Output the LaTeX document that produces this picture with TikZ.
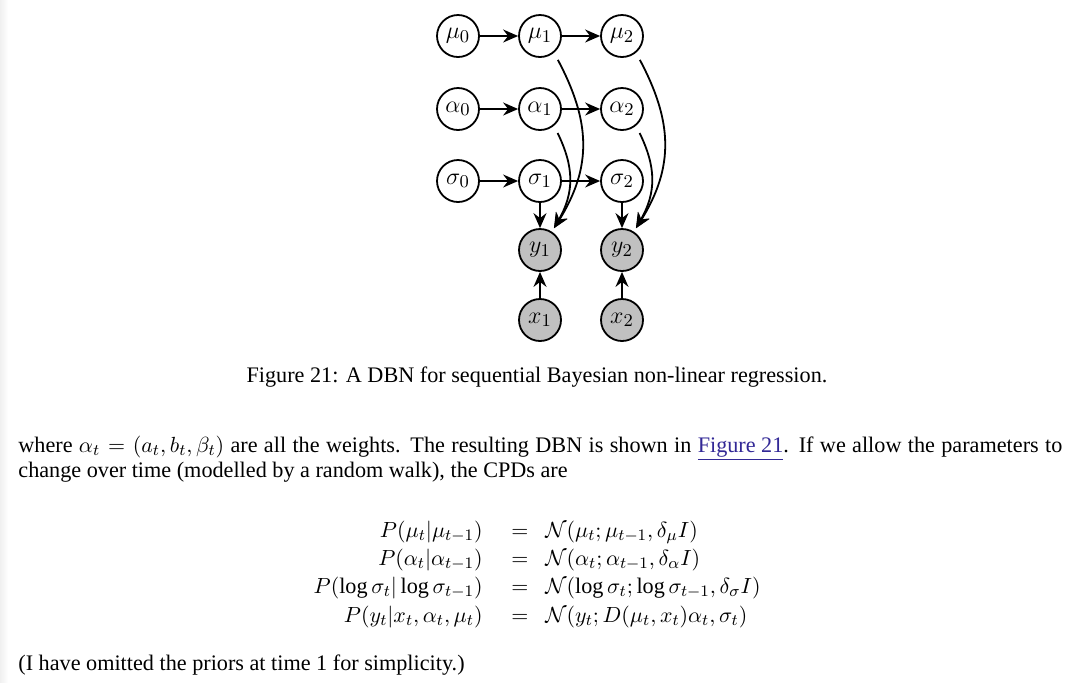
\documentclass[tikz,border=0pt]{standalone}
\usepackage{fontspec}
\setmainfont{Liberation Serif}
\usetikzlibrary{arrows.meta}
\definecolor{linkblue}{RGB}{50,40,150}
\definecolor{obsgray}{RGB}{192,192,192}
\begin{document}
\begin{tikzpicture}[x=0.5pt,y=-0.5pt,
  var/.style={circle,draw,line width=0.9pt,minimum size=21pt,inner sep=0pt,font=\fontsize{13.2}{15}\selectfont},
  obs/.style={var,fill=obsgray},
  arr/.style={-{Stealth[length=7.5pt,width=6.5pt,inset=2.5pt]},line width=0.9pt},
  curv/.style={arr,shorten <=4pt,shorten >=2pt},
  txt/.style={inner sep=0pt,font=\fontsize{11.1}{13}\selectfont}]
\useasboundingbox (0,0) rectangle (1080,682);
\fill[white] (0,0) rectangle (1080,682);
\shade[left color=gray!12,right color=white] (0,0) rectangle (8,682);
% nodes
\node[var] (mu0) at (458,36) {$\mu_0$};
\node[var] (mu1) at (540,36) {$\mu_1$};
\node[var] (mu2) at (622,36) {$\mu_2$};
\node[var] (al0) at (458,109) {$\alpha_0$};
\node[var] (al1) at (540,109) {$\alpha_1$};
\node[var] (al2) at (622,109) {$\alpha_2$};
\node[var] (sg0) at (458,181) {$\sigma_0$};
\node[var] (sg1) at (540,181) {$\sigma_1$};
\node[var] (sg2) at (622,181) {$\sigma_2$};
\node[obs] (y1) at (540,250) {$y_1$};
\node[obs] (y2) at (622,250) {$y_2$};
\node[obs] (x1) at (540,320) {$x_1$};
\node[obs] (x2) at (622,320) {$x_2$};
% edges
\draw[arr] (mu0) -- (mu1);
\draw[arr] (mu1) -- (mu2);
\draw[arr] (al0) -- (al1);
\draw[arr] (al1) -- (al2);
\draw[arr] (sg0) -- (sg1);
\draw[arr] (sg1) -- (sg2);
\draw[arr] (sg1) -- (y1);
\draw[arr] (sg2) -- (y2);
\draw[arr] (x1) -- (y1);
\draw[arr] (x2) -- (y2);
\draw[curv] (mu1.-50) to[out=-62,in=58,looseness=1.1] (y1.57);
\draw[curv] (al1.-50) to[out=-64,in=60,looseness=1.1] (y1.57);
\draw[curv] (mu2.-50) to[out=-62,in=58,looseness=1.1] (y2.57);
\draw[curv] (al2.-50) to[out=-64,in=60,looseness=1.1] (y2.57);
% caption
\node[txt,anchor=base] (cap) at (537,382) {Figure 21: A DBN for sequential Bayesian non-linear regression.};
% paragraph
\node[txt,anchor=base west] (p1) at (18,452) {\makebox[522pt][s]{where $\alpha_t = (a_t, b_t, \beta_t)$ are all the weights. The resulting DBN is shown in \textcolor{linkblue}{\underline{Figure 21}}. If we allow the parameters to}};
\node[txt,anchor=base west] (p2) at (18,477) {change over time (modelled by a random walk), the CPDs are};
% equations
\node[txt,anchor=base east] (l1) at (483,537) {$P(\mu_t|\mu_{t-1})$};
\node[txt,anchor=base] (e1) at (520,537) {$=$};
\node[txt,anchor=base west] (r1) at (545,537) {$\mathcal{N}(\mu_t;\mu_{t-1},\delta_\mu I)$};
\node[txt,anchor=base east] (l2) at (483,565) {$P(\alpha_t|\alpha_{t-1})$};
\node[txt,anchor=base] (e2) at (520,565) {$=$};
\node[txt,anchor=base west] (r2) at (545,565) {$\mathcal{N}(\alpha_t;\alpha_{t-1},\delta_\alpha I)$};
\node[txt,anchor=base east] (l3) at (483,593) {$P(\log\sigma_t|\log\sigma_{t-1})$};
\node[txt,anchor=base] (e3) at (520,593) {$=$};
\node[txt,anchor=base west] (r3) at (545,593) {$\mathcal{N}(\log\sigma_t;\log\sigma_{t-1},\delta_\sigma I)$};
\node[txt,anchor=base east] (l4) at (483,622) {$P(y_t|x_t,\alpha_t,\mu_t)$};
\node[txt,anchor=base] (e4) at (520,622) {$=$};
\node[txt,anchor=base west] (r4) at (545,622) {$\mathcal{N}(y_t;D(\mu_t,x_t)\alpha_t,\sigma_t)$};
% final line
\node[txt,anchor=base west] (p3) at (18,670) {(I have omitted the priors at time 1 for simplicity.)};
\end{tikzpicture}
\end{document}
